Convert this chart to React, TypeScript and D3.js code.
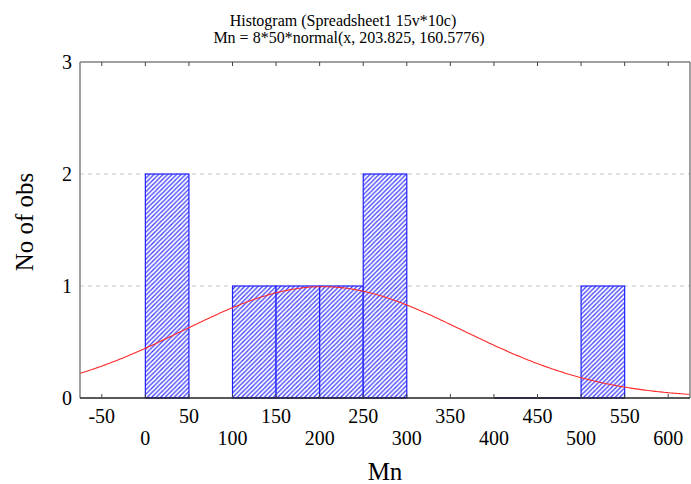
import React from "react";
import * as d3 from "d3";

const titleLines = ["Histogram (Spreadsheet1 15v*10c)", "Mn = 8*50*normal(x, 203.825, 160.5776)"];
const binStarts = [0, 100, 150, 200, 250, 400, 450, 500];
const binCounts = [2, 1, 1, 1, 2, 0, 0, 1];
const binWidth = 50;
const xTicksUpper = [-50, 50, 150, 250, 350, 450, 550];
const xTicksLower = [0, 100, 200, 300, 400, 500, 600];
const yTicks = [0, 1, 2, 3];
const gridValues = [1, 2];
const fitN = 8;
const fitMean = 203.825;
const fitSd = 160.5776;
const xDomain = [-75, 625];
const yDomain = [0, 3];

const W = 691;
const H = 484;
const left = 80;
const right = 690;
const top = 62;
const bottom = 398;
const serif = "'Liberation Serif', 'Times New Roman', serif";

export default function App() {
  const x = d3.scaleLinear().domain(xDomain).range([left, right]);
  const y = d3.scaleLinear().domain(yDomain).range([bottom, top]);
  const allTicks = d3.range(-50, 601, 50);

  const normal = (v: number) =>
    (fitN * binWidth * Math.exp(-((v - fitMean) ** 2) / (2 * fitSd * fitSd))) /
    (fitSd * Math.sqrt(2 * Math.PI));
  const curvePts = d3.range(xDomain[0], xDomain[1] + 0.01, 2).map((v) => [v, normal(v)] as [number, number]);
  const line = d3
    .line<[number, number]>()
    .x((d) => x(d[0]))
    .y((d) => y(d[1]))
    .curve(d3.curveLinear);

  return (
    <svg
      width={W}
      height={H}
      style={{ position: "absolute", left: 0, top: 0, display: "block", background: "#fff" }}
    >
      <defs>
        <pattern id="hatch" patternUnits="userSpaceOnUse" width="4.5" height="4.5">
          <rect width="4.5" height="4.5" fill="#fff" />
          <path d="M-1,5.5 L5.5,-1 M-1,1 L1,-1 M3.5,5.5 L5.5,3.5" stroke="#3a3aff" strokeWidth="1.25" />
        </pattern>
        <clipPath id="plotclip">
          <rect x={left} y={top} width={right - left} height={bottom - top} />
        </clipPath>
      </defs>
      <rect width={W} height={H} fill="#fff" />

      {titleLines.map((t, i) => (
        <text
          key={t}
          x={i === 0 ? 343 : 349}
          y={i === 0 ? 26 : 43}
          textAnchor="middle"
          fontFamily={serif}
          fontSize={16}
          fill="#000"
        >
          {t}
        </text>
      ))}

      {gridValues.map((g) => (
        <line
          key={g}
          x1={left}
          x2={right}
          y1={y(g)}
          y2={y(g)}
          stroke="#c8c8c8"
          strokeDasharray="4,4"
          strokeWidth={1}
        />
      ))}

      {binStarts.map((s, i) =>
        binCounts[i] > 0 ? (
          <rect
            key={s}
            x={x(s)}
            y={y(binCounts[i])}
            width={x(s + binWidth) - x(s)}
            height={y(0) - y(binCounts[i])}
            fill="url(#hatch)"
            stroke="#2020ff"
            strokeWidth={1.2}
          />
        ) : (
          <line
            key={s}
            x1={x(s)}
            x2={x(s + binWidth)}
            y1={y(0)}
            y2={y(0)}
            stroke="#1a1a80"
            strokeWidth={1.5}
          />
        )
      )}

      <path
        d={line(curvePts) || ""}
        fill="none"
        stroke="#ff2a2a"
        strokeWidth={1.1}
        clipPath="url(#plotclip)"
      />

      {/* frame */}
      <line x1={left} x2={right} y1={top} y2={top} stroke="#808080" strokeWidth={1.5} />
      <line x1={left} x2={left} y1={top} y2={bottom} stroke="#808080" strokeWidth={1.5} />
      <line x1={right} x2={right} y1={top} y2={bottom} stroke="#808080" strokeWidth={1.5} />
      <line x1={left} x2={right} y1={bottom} y2={bottom} stroke="#222" strokeWidth={1.5} />

      {allTicks.map((t) => (
        <g key={t}>
          <line x1={x(t)} x2={x(t)} y1={top} y2={top + 4} stroke="#444" strokeWidth={1} />
          <line x1={x(t)} x2={x(t)} y1={bottom} y2={bottom - 4} stroke="#444" strokeWidth={1} />
        </g>
      ))}

      {xTicksUpper.map((t) => (
        <text key={t} x={x(t)} y={423} textAnchor="middle" fontFamily={serif} fontSize={20} fill="#000">
          {t}
        </text>
      ))}
      {xTicksLower.map((t) => (
        <text key={t} x={x(t)} y={445} textAnchor="middle" fontFamily={serif} fontSize={20} fill="#000">
          {t}
        </text>
      ))}

      {yTicks.map((t) => (
        <text
          key={t}
          x={72}
          y={y(t) + 7}
          textAnchor="end"
          fontFamily={serif}
          fontSize={20}
          fill="#000"
        >
          {t}
        </text>
      ))}

      <text x={(left + right) / 2} y={480} textAnchor="middle" fontFamily={serif} fontSize={25} fill="#000">
        Mn
      </text>
      <text
        transform={`translate(33, 222) rotate(-90)`}
        textAnchor="middle"
        fontFamily={serif}
        fontSize={25}
        fill="#000"
      >
        No of obs
      </text>
    </svg>
  );
}
